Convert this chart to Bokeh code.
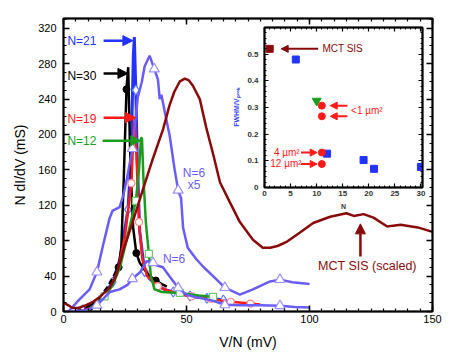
from bokeh.plotting import figure
from bokeh.models import (Range1d, LinearAxis, Label, Arrow, NormalHead, SingleIntervalTicker,
                          CustomJSTickFormatter)
from bokeh.layouts import column
from bokeh.embed import file_html
from bokeh.resources import INLINE

# ---------------- data (main panel) ----------------
n21_x = [5, 7.9, 12, 16, 20, 23, 26.2, 27.5, 28.4, 28.8, 29.4, 30, 31, 33, 35, 38.4, 41, 44.6, 48, 51.4, 55, 58.3, 62, 65, 66.5]
n21_y = [0, 2, 7, 18, 33, 60, 115, 175, 290, 310, 250, 170, 90, 45, 37, 29, 25, 22, 19.5, 17.5, 16, 15, 14, 13, 12]
n21_mx = [7.9, 20, 26.2, 29.4, 33, 44.6, 51.4, 58.3, 65]
n21_my = [2, 33, 115, 250, 45, 22, 17.5, 15, 13]

n30_x = [5, 8, 10.6, 14, 18, 22.4, 23.5, 24.5, 25.6, 26.3, 27, 27.6, 28.3, 29.6, 31, 33, 35, 37.5, 40, 42]
n30_y = [0, 2, 5, 13, 28, 50, 72, 150, 251, 276, 190, 140, 95, 66, 55, 47, 40, 35, 31, 28]
n30_mx = [10.6, 22.4, 25.6, 29.6, 37.5]
n30_my = [5, 50, 251, 66, 35]

n19_x = [7, 12, 18, 22, 25, 27.6, 28.5, 29, 29.6, 30.7, 32, 34, 38.4, 42, 46, 52, 59.8, 64, 68, 76, 80]
n19_y = [0, 5, 20, 45, 85, 145, 205, 219, 180, 101, 60, 40, 28.6, 24, 21, 17, 14.4, 12.5, 11, 9, 8]
n19_mx = [27.6, 30.7, 38.4, 52, 59.8, 68, 76]
n19_my = [145, 101, 28.6, 17, 14.4, 11, 9]

n12_x = [10, 14, 16.7, 20, 23, 26, 29.4, 30.7, 31.5, 31.9, 32.5, 33.5, 34.7, 35.5, 37, 40, 47.3, 55, 60.8, 62]
n12_y = [2, 10, 17, 30, 50, 85, 125, 160, 196, 196, 150, 100, 65, 40, 25, 22, 21, 18, 16.5, 16]
n12_mx = [16.7, 29.4, 34.7, 47.3, 60.8]
n12_my = [17, 125, 65, 21, 16.5]

n6x5_x = [2, 6.5, 10.6, 13.6, 16, 18.8, 20, 22.8, 24.2, 25.7, 28, 30.2, 31.8, 33, 35, 36.9, 38.4, 39.1, 39.8, 41.2, 43.2,
          45.2, 46.6, 47.8, 48.6, 50.5, 54, 57, 60.8, 65.6, 71.7, 77, 84, 88, 93, 100]
n6x5_y = [0, 13.6, 25, 44.5, 74, 106, 114, 118, 130, 149, 184, 242, 259, 277, 289, 274, 262, 240, 245, 225, 198,
          160, 137, 128, 95, 72, 59, 50, 40, 27, 19, 25, 34, 36, 33, 31]
n6x5_mx = [13.6, 28, 36.9, 46.6, 65.6, 88]
n6x5_my = [44.5, 184, 274, 137, 27, 36]

n6_x = [4, 8, 10.6, 13.6, 16, 18.8, 22.8, 26, 28, 31, 33.8, 36.4, 38, 40.4, 43, 46.6, 50, 54, 58, 62, 65.6, 72, 80, 88, 94, 100]
n6_y = [0, 1, 3, 7, 14, 22, 25, 30, 37, 44, 57, 55, 52, 50, 40, 26.7, 19, 16, 14, 11, 7.5, 7, 7, 6.5, 5, 4.5]
n6_mx = [13.6, 28, 36.4, 46.6, 65.6, 88]
n6_my = [7, 37, 55, 26.7, 7.5, 6.5]

mct_x = [0, 2, 3.7, 6, 9, 12, 15, 18.8, 21, 22.4, 24.2, 28, 32.3, 36, 40.5, 43, 45, 47.3, 49.3, 51, 52.6, 55.4, 58, 61,
         63.6, 67.7, 71.7, 77, 81, 84, 87, 90.9, 96, 101.5, 108.4, 115, 118, 122, 126, 131.6, 134, 137, 144, 150]
mct_y = [10, 7, 4, 4, 7, 11, 17, 27, 38, 50, 68, 100, 138, 170, 206, 232, 248, 260, 263, 261, 255, 240, 208, 176,
         146, 123, 101, 81, 72, 72, 74, 79, 89, 100, 107, 111, 108, 110, 106, 96, 97, 98, 95, 90]

x_ticks_major = 50
y_ticks_major = 40

# ---------------- data (inset) ----------------
ins_mct_n = [1]
ins_mct_r = [0.52]
ins_blue_n = [6, 12, 19, 21, 30]
ins_blue_r = [0.48, 0.127, 0.103, 0.07, 0.077]
ins_green_n = [10]
ins_green_r = [0.325]
ins_red_n = [11, 11, 11, 11]
ins_red_r = [0.307, 0.267, 0.131, 0.088]

# ---------------- colours ----------------
C_BLUE = "#2233ff"
C_PURP = "#6a5cf6"
C_RED = "#ff1a1a"
C_GREEN = "#1c9c1c"
C_DRED = "#880a0a"
FONT = "Liberation Sans"
BLANK = CustomJSTickFormatter(code="return ''")

p = figure(width=463, height=355, x_range=Range1d(0, 150), y_range=Range1d(0, 331),
           output_backend="svg", toolbar_location=None,
           min_border_left=63, min_border_right=31, min_border_top=18, min_border_bottom=44)
p.frame_align = False
p.grid.visible = False
p.outline_line_color = "black"
p.outline_line_width = 2

xt = SingleIntervalTicker(interval=x_ticks_major, num_minor_ticks=10)
yt = SingleIntervalTicker(interval=y_ticks_major, num_minor_ticks=4)
xb = p.below[0]
yl = p.left[0]
xb.ticker = xt
yl.ticker = yt
xa = LinearAxis(ticker=xt, formatter=BLANK, major_label_standoff=0)
yr = LinearAxis(ticker=yt, formatter=BLANK, major_label_standoff=0)
p.add_layout(xa, "above")
p.add_layout(yr, "right")
for ax in (xb, yl, xa, yr):
    ax.major_tick_in = 6
    ax.major_tick_out = 0
    ax.minor_tick_in = 3
    ax.minor_tick_out = 0
    ax.axis_line_width = 1.5
    ax.major_tick_line_width = 1.5
    ax.minor_tick_line_width = 1.2
    ax.major_label_text_font = FONT
    ax.major_label_text_font_size = "11px"
    ax.major_label_text_color = "black"
xb.axis_label = "V/N (mV)"
yl.axis_label = "N dI/dV (mS)"
for ax in (xb, yl):
    ax.axis_label_text_font = FONT
    ax.axis_label_text_font_size = "14px"
    ax.axis_label_text_font_style = "normal"
    ax.axis_label_text_color = "black"
xb.major_label_standoff = 3
xb.axis_label_standoff = 8
yl.major_label_standoff = 7
yl.axis_label_standoff = 7

LW = 2.5
# N=21
p.line(n21_x, n21_y, line_color=C_BLUE, line_width=3)
p.scatter(n21_mx, n21_my, marker="diamond", size=10, fill_color="white", line_color="#5577ff", line_width=1.2)
# N=30
p.line(n30_x[:6], n30_y[:6], line_color="black", line_width=LW, line_dash="6 3")
p.line(n30_x[5:], n30_y[5:], line_color="black", line_width=LW)
p.scatter(n30_mx, n30_my, marker="circle", size=7, fill_color="black", line_color="black")
# N=19
p.line(n19_x, n19_y, line_color=C_RED, line_width=LW)
p.scatter(n19_mx, n19_my, marker="circle", size=7, fill_color="white", line_color="#ff8888", line_width=1.2)
# N=12
p.line(n12_x, n12_y, line_color=C_GREEN, line_width=LW)
p.scatter(n12_mx, n12_my, marker="square", size=7, fill_color="white", line_color="#66cc66", line_width=1.2)
# N=6 and N=6 x5
p.line(n6_x, n6_y, line_color=C_PURP, line_width=LW)
p.scatter(n6_mx, n6_my, marker="triangle", size=10, fill_color="white", line_color="#9a90ff", line_width=1.2)
p.line(n6x5_x, n6x5_y, line_color=C_PURP, line_width=LW)
p.scatter(n6x5_mx, n6x5_my, marker="triangle", size=10, fill_color="white", line_color="#9a90ff", line_width=1.2)
# MCT SIS (scaled)
p.line(mct_x, mct_y, line_color=C_DRED, line_width=LW)


def arrow(fig, x0, y0, x1, y1, c, lw=2.5, hs=10):
    fig.add_layout(Arrow(end=NormalHead(size=hs, fill_color=c, line_color=c, line_width=1),
                         x_start=x0, y_start=y0, x_end=x1, y_end=y1, line_color=c, line_width=lw))


def label(fig, x, y, t, c, size="12px", align="left", style="normal"):
    fig.add_layout(Label(x=x, y=y, text=t, text_color=c, text_font=FONT, text_font_size=size,
                         text_align=align, text_baseline="middle", text_font_style=style))


label(p, 1.6, 306, "N=21", C_BLUE)
arrow(p, 16.3, 306, 28.2, 306, C_BLUE)
label(p, 1.6, 266, "N=30", "black")
arrow(p, 16.3, 269, 26.2, 269, "black")
label(p, 1.6, 218, "N=19", C_RED)
arrow(p, 16.3, 219, 29.3, 219, C_RED)
label(p, 1.6, 193, "N=12", C_GREEN)
arrow(p, 15.9, 193, 31.4, 193, C_GREEN)
label(p, 48.5, 157, "N=6", C_PURP)
label(p, 50.5, 143, "x5", C_PURP)
label(p, 40.4, 59, "N=6", C_PURP)
label(p, 103.5, 51, "MCT SIS (scaled)", C_DRED, size="12.5px")
arrow(p, 120.7, 62, 120.7, 99, C_DRED)

# ---------------- inset ----------------
ins = figure(width=210, height=196, x_range=Range1d(0, 30.3), y_range=Range1d(0, 0.6),
             output_backend="svg", toolbar_location=None, sizing_mode="fixed",
             min_border_left=40, min_border_right=12, min_border_top=8, min_border_bottom=28,
             background_fill_alpha=0, border_fill_alpha=0)
ins.frame_align = False
ins.styles = {"position": "absolute", "left": "224px", "top": "19px", "width": "210px", "height": "196px"}
ins.grid.visible = False
ins.outline_line_color = "black"
ins.outline_line_width = 2
ixt = SingleIntervalTicker(interval=5, num_minor_ticks=5)
iyt = SingleIntervalTicker(interval=0.1, num_minor_ticks=5)
ixb = ins.below[0]
iyl = ins.left[0]
ixb.ticker = ixt
iyl.ticker = iyt
ixa = LinearAxis(ticker=ixt, formatter=BLANK, major_label_standoff=0)
iyr = LinearAxis(ticker=iyt, formatter=BLANK, major_label_standoff=0)
ins.add_layout(ixa, "above")
ins.add_layout(iyr, "right")
for ax in (ixb, iyl, ixa, iyr):
    ax.major_tick_in = 4
    ax.major_tick_out = 0
    ax.minor_tick_in = 2
    ax.minor_tick_out = 0
    ax.axis_line_width = 1.5
    ax.major_tick_line_width = 1.2
    ax.major_label_text_font = FONT
    ax.major_label_text_font_size = "8px"
    ax.major_label_text_font_style = "bold"
    ax.major_label_text_color = "#333333"
ixb.major_label_standoff = 3
iyl.major_label_standoff = 6
ixb.axis_label = "N"
iyl.axis_label = "FWHM/Vₚₑₐₖ"
ixb.axis_label_text_color = "#333333"
iyl.axis_label_text_color = "#3344ff"
for ax in (ixb, iyl):
    ax.axis_label_text_font = FONT
    ax.axis_label_text_font_size = "7px"
    ax.axis_label_text_font_style = "bold"
    ax.axis_label_standoff = 4

ins.scatter(ins_mct_n, ins_mct_r, marker="square", size=7, fill_color=C_DRED, line_color=C_DRED)
ins.scatter(ins_blue_n, ins_blue_r, marker="square", size=7, fill_color=C_BLUE, line_color=C_BLUE)
ins.scatter(ins_green_n, ins_green_r, marker="inverted_triangle", size=9, fill_color=C_GREEN, line_color=C_GREEN)
ins.scatter(ins_red_n, ins_red_r, marker="circle", size=7, fill_color=C_RED, line_color=C_RED)

arrow(ins, 10.3, 0.52, 3.2, 0.52, C_DRED, lw=2, hs=7)
label(ins, 11.1, 0.523, "MCT SIS", C_DRED, size="10px")
arrow(ins, 15.9, 0.307, 12.6, 0.307, C_RED, lw=2, hs=7)
arrow(ins, 15.9, 0.267, 12.6, 0.267, C_RED, lw=2, hs=7)
label(ins, 16.6, 0.29, "<1 µm²", C_RED, size="10px")
arrow(ins, 7.0, 0.131, 10.1, 0.131, C_RED, lw=2, hs=7)
label(ins, 1.8, 0.133, "4 µm²", C_RED, size="10px")
arrow(ins, 7.0, 0.088, 10.1, 0.088, C_RED, lw=2, hs=7)
label(ins, 1.1, 0.09, "12 µm²", C_RED, size="10px")

layout = column(p, ins)
open("out.html", "w").write(file_html(layout, INLINE))
